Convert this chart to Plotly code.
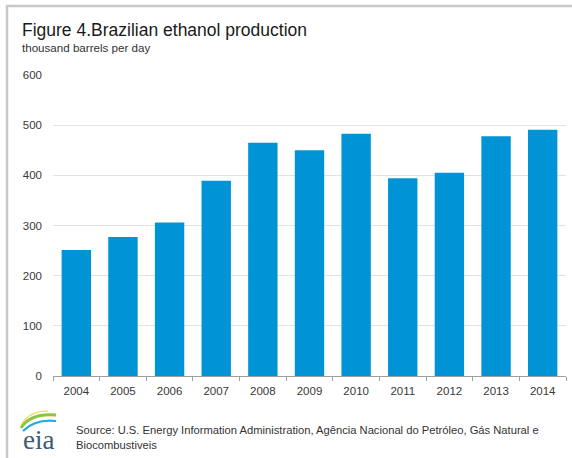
import plotly.graph_objects as go

years = ["2004", "2005", "2006", "2007", "2008", "2009", "2010", "2011", "2012", "2013", "2014"]
production = [251, 277, 306, 389, 465, 450, 483, 394, 405, 478, 491]
y_ticks = [0, 100, 200, 300, 400, 500, 600]

W, H = 572, 458
L, R, T, B = 53, 6, 75, 82
pw, ph = W - L - R, H - T - B

def px(x):
    return (x - L) / pw

def py(y):
    return (H - B - y) / ph

fig = go.Figure()
fig.add_trace(go.Bar(x=years, y=production, marker=dict(color="#0093d6", line=dict(width=0)),
                     hoverinfo="x+y"))

fig.update_layout(
    width=W, height=H,
    margin=dict(l=L, r=R, t=T, b=B),
    paper_bgcolor="white", plot_bgcolor="white",
    bargap=0.37,
    showlegend=False,
    font=dict(family="Liberation Sans, Arial, sans-serif", color="#404040", size=11),
    xaxis=dict(showgrid=False, showline=True, linecolor="#a0a0a0", linewidth=1,
               ticks="outside", ticklen=4, tickcolor="#a0a0a0", tickson="boundaries",
               tickfont=dict(size=11.5, color="#383838"), ticklabelstandoff=4),
    yaxis=dict(range=[0, 600], tickvals=y_ticks, showgrid=True, gridcolor="#e2e2e2",
               gridwidth=1, zeroline=False, showline=False, ticks="",
               tickfont=dict(size=11.5, color="#383838"), ticklabelstandoff=10),
)

shapes = [
    dict(type="line", xref="paper", yref="paper", x0=px(7), x1=px(7), y0=py(5), y1=py(H + 2),
         line=dict(color="#c8c8c8", width=2.5)),
    dict(type="line", xref="paper", yref="paper", x0=px(6), x1=px(W + 2), y0=py(6), y1=py(6),
         line=dict(color="#c8c8c8", width=2.5)),
    # eia logo swooshes
    dict(type="path", xref="paper", yref="paper",
         path=f"M {px(21)},{py(428)} Q {px(30)},{py(413)} {px(56)},{py(415)}",
         line=dict(color="#8cc63f", width=3)),
    dict(type="path", xref="paper", yref="paper",
         path=f"M {px(23)},{py(431)} Q {px(35)},{py(419)} {px(56)},{py(421)}",
         line=dict(color="#27a9e1", width=2.2)),
    dict(type="path", xref="paper", yref="paper",
         path=f"M {px(21)},{py(425)} Q {px(29)},{py(411)} {px(48)},{py(411)}",
         line=dict(color="#f2d24a", width=1.2)),
]
fig.update_layout(shapes=shapes)

annotations = [
    dict(text="Figure 4.Brazilian ethanol production", x=px(20), y=py(30), xref="paper", yref="paper",
         xanchor="left", yanchor="middle", showarrow=False,
         font=dict(size=17.5, color="#1a1a1a")),
    dict(text="thousand barrels per day", x=px(20), y=py(47), xref="paper", yref="paper",
         xanchor="left", yanchor="middle", showarrow=False,
         font=dict(size=11.6, color="#333333")),
    dict(text="Source: U.S. Energy Information Administration, Agência Nacional do Petróleo, Gás Natural e<br>Biocombustiveis",
         x=px(74), y=py(437), xref="paper", yref="paper", xanchor="left", yanchor="middle",
         align="left", showarrow=False, font=dict(size=11.2, color="#333333")),
    dict(text="eia", x=px(38), y=py(440), xref="paper", yref="paper", xanchor="center", yanchor="middle",
         showarrow=False, font=dict(family="Liberation Serif, Times New Roman, serif", size=27, color="#3f5a70")),
]
fig.update_layout(annotations=annotations)

fig.write_html("out.html", config={"displayModeBar": False},
               post_script="document.body.style.margin='0px';document.body.style.overflow='hidden';")
